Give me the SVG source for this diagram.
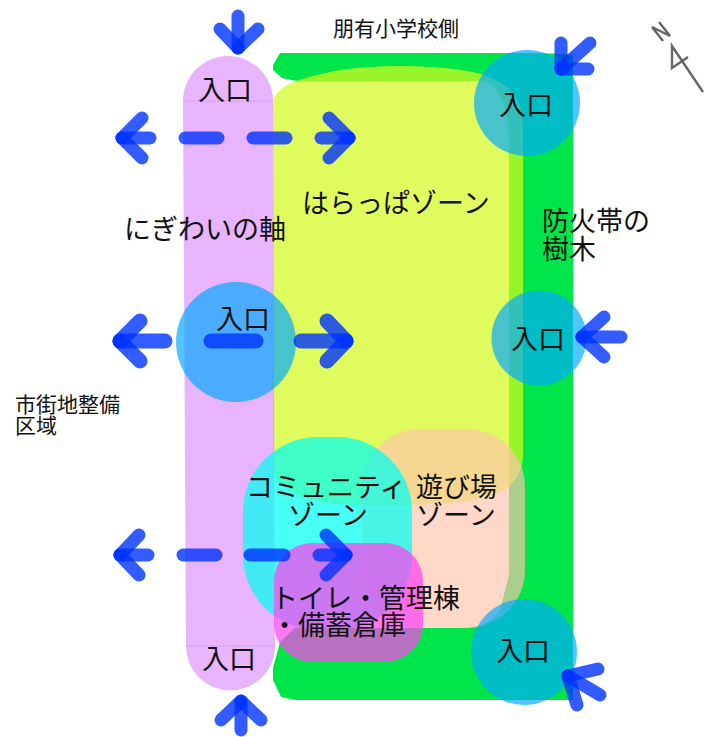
<svg xmlns="http://www.w3.org/2000/svg" width="708" height="737" viewBox="0 0 708 737">
<style>
text{font-family:"Noto Sans CJK JP","Noto Sans",sans-serif;fill:#111;font-size:27px}
.s{font-size:21px}
.a{fill:none;stroke:#0033ff;stroke-opacity:.8;stroke-linecap:round;stroke-linejoin:round;stroke-width:13}
.b{stroke-width:15}
.c{fill:#00a8ff;fill-opacity:.68}
</style>
<rect width="708" height="737" fill="#fff"/>
<g id="green-belt"><path fill="#00e64a" fill-rule="evenodd" d="M280 53H520Q560 53 573 55V700H295L281 697L273 680V668L280 642L295 628H460Q490 628 500 610L509 575V150C509 105 500 84 482 81H297L282 78L273 70V65Z"/></g>
<g id="harappa-zone"><path fill="#d4fa1e" fill-opacity=".72" d="M273 105C273 85 300 78 340 70C370 66 400 65 430 67C500 70 523 90 523 125V455C523 480 505 497 470 501C420 506 370 507 330 503C295 498 273 485 273 465Z"/></g>
<g id="nigiwai-axis"><path fill="#dc8cfc" fill-opacity=".65" d="M183 101A45 45 0 0 1 273 101L275 646A44.5 44.5 0 0 1 186 646Z"/><path d="M183 101H273M186 646H275" stroke="#b070d0" stroke-opacity=".3" fill="none"/></g>
<g id="asobiba-zone"><rect x="362" y="429" width="163" height="199" rx="58" fill="#ffc5ad" fill-opacity=".67"/></g>
<g id="community-zone"><rect x="243" y="437" width="169" height="193" rx="75" fill="#00fff0" fill-opacity=".72"/></g>
<g id="toilet-zone"><rect x="274" y="543" width="149" height="119" rx="38" fill="#ff43f0" fill-opacity=".72"/></g>
<g id="entrance-tr"><circle class="c" cx="527" cy="103" r="53"/></g>
<g id="entrance-ml"><circle class="c" cx="236" cy="342" r="60"/></g>
<g id="entrance-mr"><circle class="c" cx="539" cy="338" r="47.5"/></g>
<g id="entrance-br"><circle class="c" cx="524" cy="652" r="53"/></g>
<g id="connectors">
<path class="a" d="M238 16V48"/><path class="a" d="M220 29L238 48"/><path class="a" d="M258 29L238 48"/>
<path class="a" d="M122 138H150"/><path class="a" d="M142 118L122 138"/><path class="a" d="M142 158L122 138"/>
<path class="a" d="M185 138H218"/><path class="a" d="M253 138H286"/>
<path class="a" d="M321 138H349"/><path class="a" d="M329 118L349 138"/><path class="a" d="M329 158L349 138"/>
<path class="a b" d="M120 341H165"/><path class="a b" d="M140 321L120 341"/><path class="a b" d="M140 361L120 341"/>
<path class="a b" d="M211 341H256"/>
<path class="a b" d="M301 341H346"/><path class="a b" d="M327 321L346 341"/><path class="a b" d="M327 361L346 341"/>
<path class="a" d="M120 555H148"/><path class="a" d="M139 535L120 555"/><path class="a" d="M139 575L120 555"/>
<path class="a" d="M183 555H216"/><path class="a" d="M250 555H284"/>
<path class="a" d="M319 555H346"/><path class="a" d="M326 535L346 555"/><path class="a" d="M326 575L346 555"/>
<path class="a" d="M241 703V730"/><path class="a" d="M221 720L241 701"/><path class="a" d="M261 720L241 701"/>
<path class="a" d="M561 43V69"/><path class="a" d="M588 69H561"/><path class="a" d="M590 43L561 69"/>
<path class="a" d="M582 337H621"/><path class="a" d="M604 317L582 337"/><path class="a" d="M604 357L582 337"/>
<path class="a" d="M568 676L598 669"/><path class="a" d="M568 676L600 695"/><path class="a" d="M568 676L577 705"/>
</g>
<g id="north" fill="none" stroke="#666" stroke-width="2.4"><path d="M663 41L652 27L670 36L659 22"/><path d="M703 92L672 46V68L688 57"/></g>
<g id="labels">
<text class="s" x="333" y="36">朋有小学校側</text>
<text class="s" x="15" y="412">市街地整備</text>
<text class="s" x="15" y="433">区域</text>
<text x="124" y="239">にぎわいの軸</text>
<text x="302" y="213">はらっぱゾーン</text>
<text x="542" y="231">防火帯の</text>
<text x="542" y="259">樹木</text>
<text x="198" y="100">入口</text>
<text x="499" y="115">入口</text>
<text x="216" y="329">入口</text>
<text x="511" y="349">入口</text>
<text x="202" y="669">入口</text>
<text x="496" y="661">入口</text>
<text x="246" y="497">コミュニティ</text>
<text x="288" y="525">ゾーン</text>
<text x="416" y="497">遊び場</text>
<text x="416" y="525">ゾーン</text>
<text x="271" y="608">トイレ・管理棟</text>
<text x="271" y="635">・備蓄倉庫</text>
</g>
</svg>
